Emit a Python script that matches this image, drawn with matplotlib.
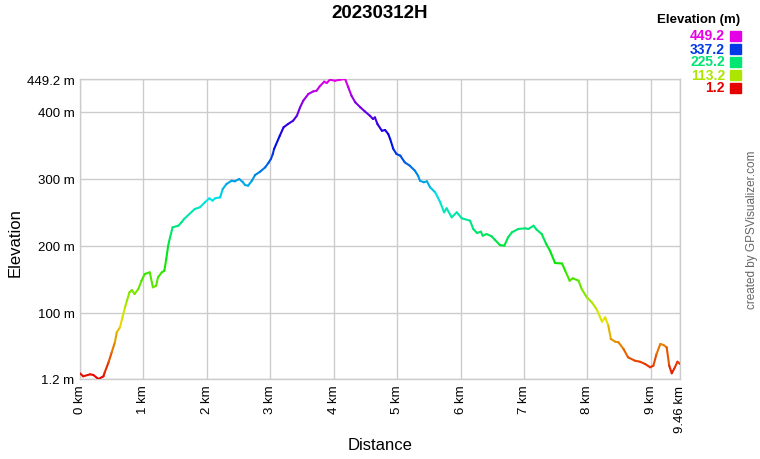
import numpy as np
import matplotlib
matplotlib.use("Agg")
import matplotlib.pyplot as plt
from matplotlib.collections import LineCollection
from matplotlib.colors import hsv_to_rgb

plt.rcParams['font.family'] = ['Liberation Sans', 'DejaVu Sans']

# track profile: distance (km), elevation (m)
dist_km = [0.00, 0.05, 0.16, 0.21, 0.29, 0.37, 0.39, 0.45, 0.50, 0.55, 0.58, 0.63, 0.67, 0.71,
           0.74, 0.78, 0.82, 0.86, 0.92, 0.97, 1.02, 1.10, 1.15, 1.20, 1.23, 1.29, 1.33, 1.36,
           1.39, 1.42, 1.46, 1.55, 1.60, 1.64, 1.81, 1.89, 1.97, 2.04, 2.09, 2.13, 2.21, 2.25,
           2.31, 2.39, 2.44, 2.51, 2.57, 2.60, 2.65, 2.71, 2.76, 2.84, 2.92, 2.97, 3.01, 3.04,
           3.06, 3.15, 3.21, 3.28, 3.36, 3.42, 3.47, 3.52, 3.60, 3.68, 3.73, 3.78, 3.85, 3.89,
           3.94, 4.02, 4.10, 4.18, 4.23, 4.28, 4.34, 4.42, 4.49, 4.57, 4.62, 4.65, 4.69, 4.76,
           4.81, 4.86, 4.89, 4.94, 4.99, 5.05, 5.12, 5.20, 5.28, 5.33, 5.36, 5.42, 5.47, 5.52,
           5.60, 5.68, 5.74, 5.78, 5.86, 5.94, 6.02, 6.15, 6.20, 6.26, 6.32, 6.35, 6.41, 6.49,
           6.54, 6.62, 6.69, 6.75, 6.81, 6.91, 7.02, 7.07, 7.15, 7.20, 7.28, 7.35, 7.41, 7.49,
           7.60, 7.65, 7.72, 7.77, 7.86, 7.91, 7.99, 8.07, 8.15, 8.23, 8.28, 8.33, 8.37, 8.44,
           8.49, 8.57, 8.64, 8.75, 8.83, 8.91, 8.99, 9.04, 9.09, 9.15, 9.20, 9.25, 9.29, 9.33,
           9.38, 9.42, 9.46]
elev_m = [9.7, 5.2, 8.2, 7.2, 1.2, 5.2, 11.2, 26.1, 41.1, 56.0, 71.0, 78.4, 93.3, 108.3,
          118.1, 130.7, 134.1, 128.1, 135.6, 148.0, 158.0, 160.5, 138.1, 140.5, 153.1, 160.5, 163.0, 180.4,
          200.3, 212.8, 227.7, 230.1, 235.2, 240.1, 255.1, 257.6, 265.1, 271.0, 267.5, 271.0, 272.5, 284.9,
          292.4, 297.3, 296.4, 299.9, 295.0, 290.9, 289.9, 297.3, 305.8, 310.8, 317.3, 323.8, 329.7, 337.2,
          344.7, 364.5, 377.1, 382.0, 386.9, 394.4, 406.9, 416.8, 426.8, 430.8, 431.7, 438.3, 445.2, 443.2,
          448.2, 446.6, 448.2, 449.2, 436.8, 424.3, 414.4, 406.9, 400.9, 394.4, 389.4, 391.9, 381.9, 371.9,
          373.0, 367.0, 359.6, 344.7, 337.2, 334.7, 324.8, 319.7, 312.3, 304.8, 297.3, 295.0, 296.4, 287.4,
          280.0, 265.1, 250.1, 256.1, 242.7, 250.1, 241.2, 237.6, 225.2, 219.2, 221.2, 215.2, 217.7, 214.3,
          209.2, 201.3, 200.3, 212.8, 220.3, 225.2, 226.2, 225.2, 230.1, 224.2, 217.7, 202.8, 192.8, 174.4,
          173.7, 162.9, 148.0, 151.6, 148.0, 135.6, 123.2, 115.7, 104.7, 86.8, 93.3, 80.8, 60.9, 56.9,
          56.0, 46.0, 33.6, 28.5, 27.0, 23.6, 18.7, 21.1, 38.5, 53.5, 52.0, 48.5, 21.1, 9.7,
          18.7, 27.0, 23.6]

y_ticks = [1.2, 100, 200, 300, 400, 449.2]
y_tick_labels = ['1.2 m', '100 m', '200 m', '300 m', '400 m', '449.2 m']
x_ticks = [0, 1, 2, 3, 4, 5, 6, 7, 8, 9, 9.46]
x_tick_labels = ['0 km', '1 km', '2 km', '3 km', '4 km', '5 km', '6 km', '7 km', '8 km', '9 km', '9.46 km']
legend_values = [449.2, 337.2, 225.2, 113.2, 1.2]

e_min, e_max = min(elev_m), max(elev_m)


def elev_color(e):
    # red (low) -> yellow -> green -> cyan -> blue -> magenta (high)
    h = 300.0 / 360.0 * (e - e_min) / (e_max - e_min)
    return hsv_to_rgb((h, 1.0, 0.9))


fig = plt.figure(figsize=(7.6, 4.6), dpi=100)
ax = fig.add_axes([80 / 760, 1 - 380 / 460, 600 / 760, 300 / 460])

x = np.array(dist_km)
y = np.array(elev_m)
pts = np.column_stack([x, y]).reshape(-1, 1, 2)
segs = np.concatenate([pts[:-1], pts[1:]], axis=1)
cols = [elev_color((y[i] + y[i + 1]) / 2) for i in range(len(y) - 1)]
lc = LineCollection(segs, colors=cols, linewidths=1.5, capstyle='round', joinstyle='round', zorder=3)
ax.add_collection(lc)

ax.set_xlim(0, 9.46)
ax.set_ylim(1.2, 449.2)
ax.set_yticks(y_ticks)
ax.set_yticklabels(y_tick_labels, fontsize=9.5)
ax.set_xticks(x_ticks)
ax.set_xticklabels(x_tick_labels, fontsize=9.5, rotation=90)
ax.tick_params(length=0, pad=4)
ax.grid(True, color='#cccccc', linewidth=1)
for s in ax.spines.values():
    s.set_color('#cccccc')
    s.set_linewidth(1)

fig.text(380 / 760, 1 - 14 / 460, '20230312H', ha='center', va='center', fontsize=13.5, fontweight='bold')
fig.text(380 / 760, 1 - 446 / 460, 'Distance', ha='center', va='center', fontsize=12)
fig.text(15 / 760, 1 - 243 / 460, 'Elevation', ha='center', va='center', fontsize=12, rotation=90)
fig.text(752 / 760, 1 - 230 / 460, 'created by GPSVisualizer.com', ha='center', va='center',
         fontsize=8.5, rotation=90, color='#666666')

# legend
fig.text(740 / 760, 1 - 20 / 460, 'Elevation (m)', ha='right', va='center', fontsize=9.5, fontweight='bold')
for i, v in enumerate(legend_values):
    yy = 1 - (36.5 + i * 13) / 460
    c = elev_color(v)
    fig.text(725 / 760, yy, f'{v:.1f}', ha='right', va='center', fontsize=10, fontweight='bold', color=c)
    fig.patches.append(plt.Rectangle((730 / 760, yy - 5 / 460), 11 / 760, 10 / 460,
                                     transform=fig.transFigure, color=c, figure=fig))

fig.savefig('out.png', dpi=100)
